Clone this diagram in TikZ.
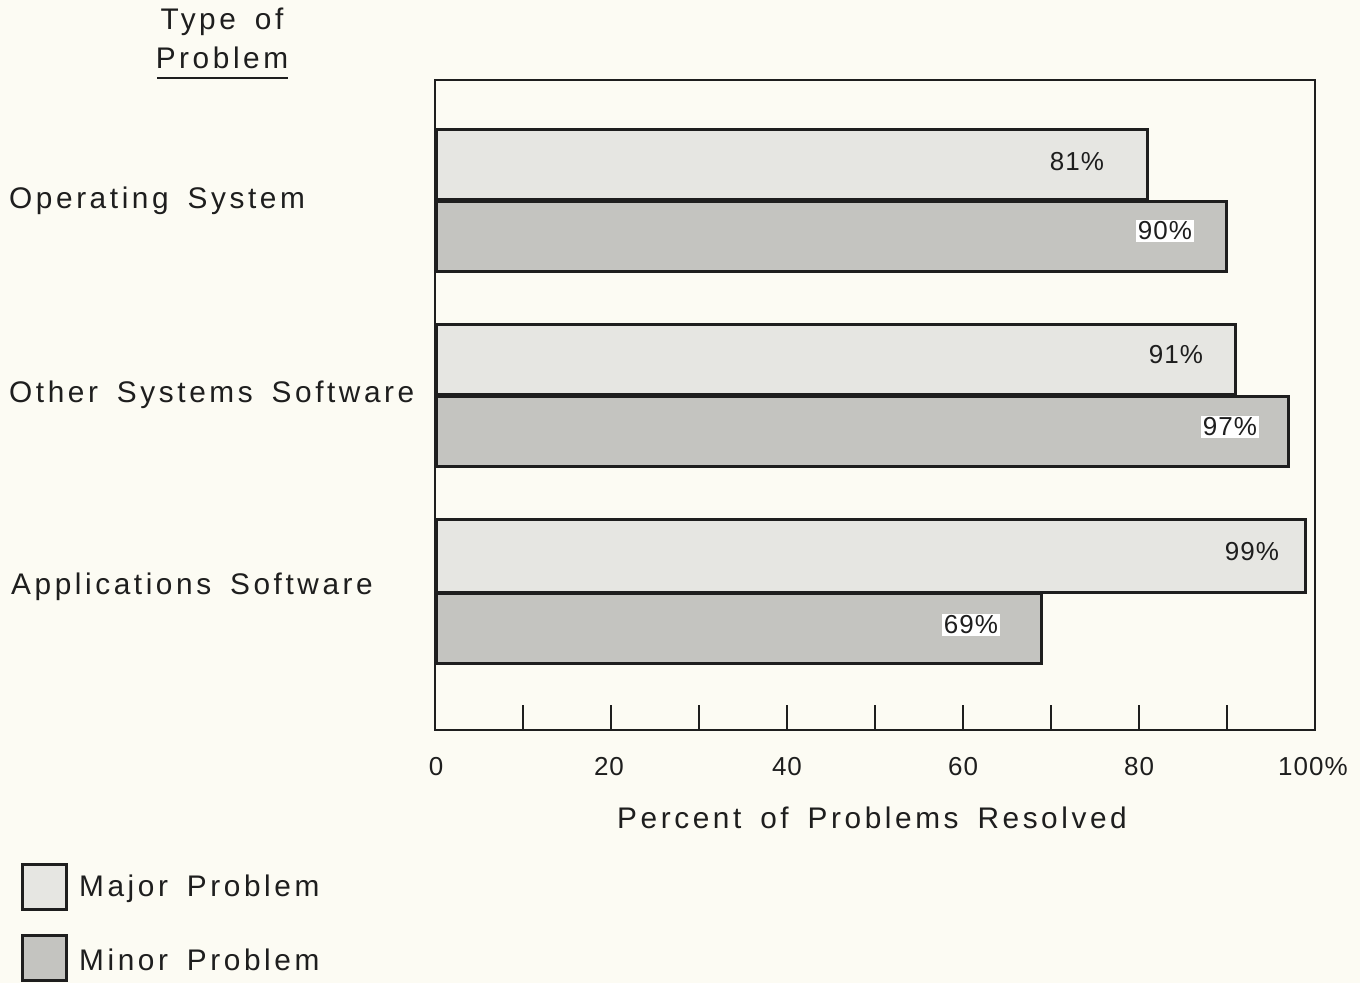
\documentclass[tikz,border=0pt]{standalone}
\usepackage{fontspec}
\setmainfont{Liberation Sans}
\newfontfamily\lblfont[LetterSpace=12,WordSpace=1.6]{Liberation Sans}
\newfontfamily\numfont[LetterSpace=4]{Liberation Sans}
\definecolor{paper}{HTML}{FCFBF3}
\definecolor{majfill}{HTML}{E6E6E2}
\definecolor{minfill}{HTML}{C4C4C0}
\definecolor{ink}{HTML}{1E1E1E}
\begin{document}
\begin{tikzpicture}[x=1pt,y=-1pt,
  bar/.style={draw=ink,line width=3pt,anchor=north west,inner sep=0pt,minimum height=70pt},
  majbar/.style={bar,fill=majfill},
  minbar/.style={bar,fill=minfill},
  cat/.style={anchor=west,inner sep=0pt,font=\fontsize{29.8}{32}\lblfont,text=ink},
  pct/.style={inner sep=2pt,font=\fontsize{26}{28}\numfont,text=ink},
  pctbox/.style={pct,fill=white},
  tick/.style={draw=ink,line width=2pt},
  ticklbl/.style={inner sep=0pt,font=\fontsize{26}{28}\numfont,text=ink},
  legbox/.style={draw=ink,line width=3pt,inner sep=0pt,minimum width=44pt,minimum height=45pt}
]
\fill[paper] (0,0) rectangle (1360,983);
\useasboundingbox (0,0) rectangle (1360,983);

% frame
\draw[line width=2pt,ink] (435,80) -- (1315,80) -- (1315,730) -- (435,730) -- cycle;
\coordinate (o) at (435,730);

% ticks
\foreach \p in {10,20,...,90}{
  \draw[tick] ({435+8.8*\p},730) -- ({435+8.8*\p},705);
}

% tick labels
\node[ticklbl] (t0) at (436,767) {0};
\node[ticklbl] (t20) at (609,767) {20};
\node[ticklbl] (t40) at (787,767) {40};
\node[ticklbl] (t60) at (963,767) {60};
\node[ticklbl] (t80) at (1139,767) {80};
\node[ticklbl] (t100) at (1313,767) {100\%};

\node[inner sep=0pt,font=\fontsize{29.8}{32}\lblfont,text=ink] (xlab) at (872,818) {Percent of Problems Resolved};

% bars
\node[majbar,minimum width={8.8*81-2}] (osmaj) at (435,128) {};
\node[minbar,minimum width={8.8*90-2}] (osmin) at (435,200) {};
\node[majbar,minimum width={8.8*91-2}] (otmaj) at (435,323) {};
\node[minbar,minimum width={8.8*97-2}] (otmin) at (435,395) {};
\node[majbar,minimum width={8.8*99-2},minimum height=73pt] (apmaj) at (435,518) {};
\node[minbar,minimum width={8.8*69-2}] (apmin) at (435,592) {};

% bar labels
\node[pct] (l81) at (1077,162) {81\%};
\node[pctbox] (l90) at (1165,231) {90\%};
\node[pct] (l91) at (1176,355) {91\%};
\node[pctbox] (l97) at (1230,427) {97\%};
\node[pct] (l99) at (1252,552) {99\%};
\node[pctbox] (l69) at (971,625) {69\%};

% category labels
\node[cat] (c1) at (9,201) {Operating System};
\node[cat] (c2) at (9,395) {Other Systems Software};
\node[cat] (c3) at (11,587) {Applications Software};

% heading
\node[inner sep=0pt,font=\fontsize{29.8}{32}\lblfont,text=ink] (h1) at (222,22) {Type of};
\node[inner sep=0pt,font=\fontsize{29.8}{32}\lblfont,text=ink] (h2) at (222,58) {Problem};
\draw[line width=2pt,ink] (157,78) -- (288,78);

% legend
\node[legbox,fill=majfill] (lg1) at (44,887) {};
\node[legbox,fill=minfill] (lg2) at (44,958) {};
\node[cat] (lt1) at (79,889) {Major Problem};
\node[cat] (lt2) at (79,960) {Minor Problem};
\end{tikzpicture}
\end{document}
